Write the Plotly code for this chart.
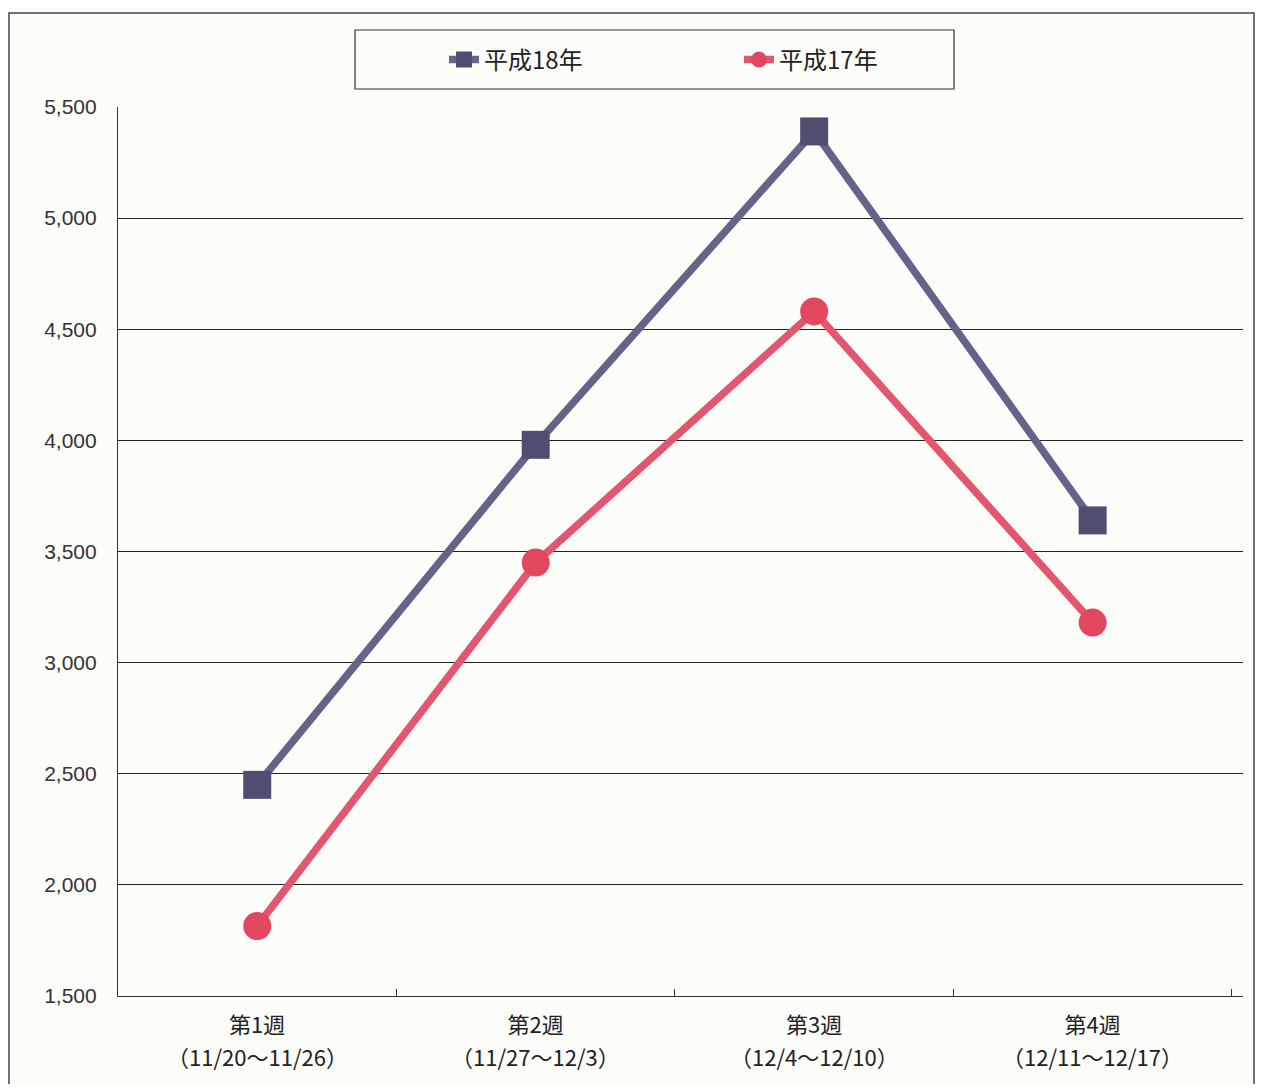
import plotly.graph_objects as go

week_labels = ["第1週", "第2週", "第3週", "第4週"]
date_labels = ["（11/20～11/26）", "（11/27～12/3）", "（12/4～12/10）", "（12/11～12/17）"]
series_names = ["平成18年", "平成17年"]
h18_values = [2450, 3980, 5390, 3640]
h17_values = [1815, 3450, 4580, 3180]
y_ticks = [1500, 2000, 2500, 3000, 3500, 4000, 4500, 5000, 5500]

O = 8  # page body offset
W, H = 1248, 1076
# plot area in page pixels
L, R, T, B = 118, 1243, 107, 996

def px_x(px):
    return (px - L) / (R - L)

def px_y(py):
    return (B - py) / (B - T)

fig = go.Figure()
fig.add_trace(go.Scatter(
    x=week_labels, y=h18_values, name=series_names[0], mode="lines+markers",
    line=dict(color="#64638a", width=7.5),
    marker=dict(symbol="square", size=28, color="#504e70"),
))
fig.add_trace(go.Scatter(
    x=week_labels, y=h17_values, name=series_names[1], mode="lines+markers",
    line=dict(color="#e3566f", width=7.5),
    marker=dict(symbol="circle", size=28, color="#e24760"),
))

# date ranges under each week label
for wk, dl in zip(week_labels, date_labels):
    fig.add_annotation(x=wk, xref="x", y=0, yref="paper", yanchor="top",
                       text=dl, showarrow=False, yshift=-42,
                       font=dict(size=22, family="Noto Sans CJK JP", color="#222222"))

# outer frame and legend box
fig.add_shape(type="rect", xref="paper", yref="paper",
              x0=px_x(9), x1=px_x(1254), y0=px_y(1110), y1=px_y(13),
              line=dict(color="#444444", width=1.5), fillcolor="rgba(0,0,0,0)", layer="below")
fig.add_shape(type="rect", xref="paper", yref="paper",
              x0=px_x(355), x1=px_x(954), y0=px_y(89), y1=px_y(30),
              line=dict(color="#333333", width=1.2), fillcolor="rgba(0,0,0,0)")

fig.update_layout(
    width=W, height=H,
    margin=dict(l=L - O, r=W - (R - O), t=T - O, b=H - (B - O)),
    paper_bgcolor="#fcfcf9", plot_bgcolor="#fcfcf9",
    font=dict(family="Noto Sans CJK JP", color="#222222"),
    showlegend=True,
    legend=dict(
        orientation="h", x=px_x(444), y=px_y(60), xanchor="left", yanchor="middle",
        bgcolor="rgba(0,0,0,0)", borderwidth=0,
        entrywidth=250, entrywidthmode="pixels",
        font=dict(size=24, family="Noto Sans CJK JP", color="#222222"),
    ),
    xaxis=dict(
        type="category", range=[-0.5, 3.54],
        showline=True, linecolor="#333333", linewidth=1.2,
        ticks="inside", tickson="boundaries", ticklen=7, tickcolor="#333333",
        showgrid=False, ticklabelstandoff=9,
        tickfont=dict(size=22, family="Noto Sans CJK JP", color="#222222"),
    ),
    yaxis=dict(
        range=[1500, 5500], tickvals=y_ticks, tickformat=",",
        showline=True, linecolor="#333333", linewidth=1.2,
        showgrid=True, gridcolor="#222222", gridwidth=1.2,
        zeroline=False, ticks="", ticklabelstandoff=16,
        tickfont=dict(size=21, family="Liberation Sans", color="#333333"),
    ),
)

fig.write_html("out.html")
